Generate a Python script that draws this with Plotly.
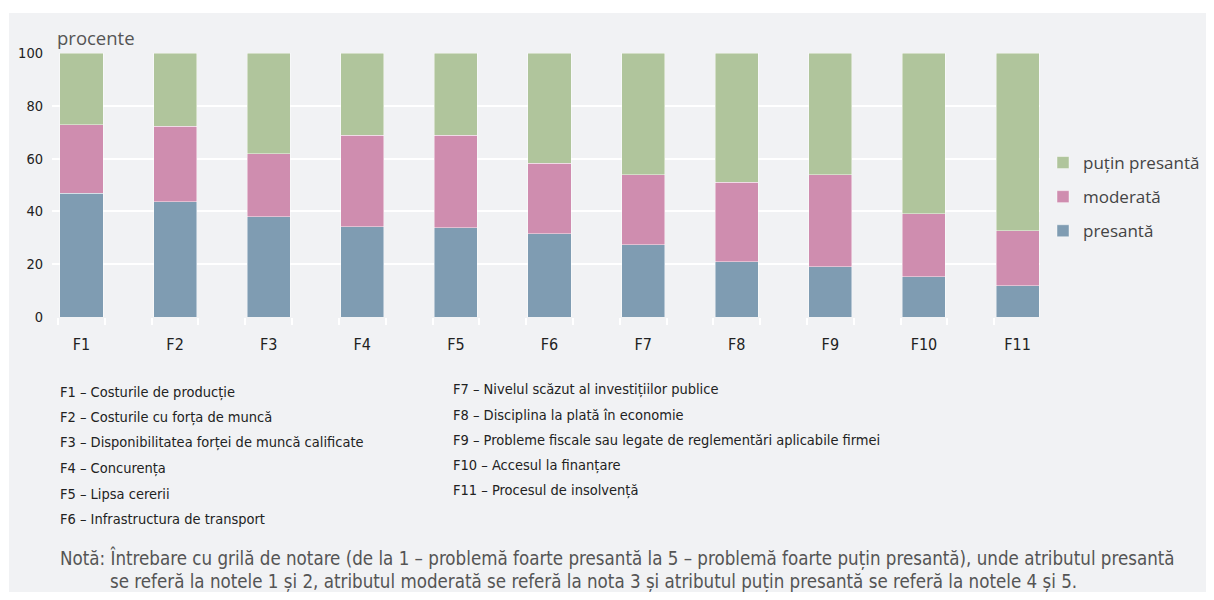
import plotly.graph_objects as go

categories = ["F1", "F2", "F3", "F4", "F5", "F6", "F7", "F8", "F9", "F10", "F11"]
presanta = [46.9, 43.7, 38.0, 34.2, 33.8, 31.6, 27.3, 21.0, 19.1, 15.3, 11.9]
moderata = [26.0, 28.6, 23.9, 34.6, 35.1, 26.6, 26.6, 30.1, 34.8, 23.8, 20.8]
putin = [27.1, 27.7, 38.1, 31.2, 31.1, 41.8, 46.1, 48.9, 46.1, 60.9, 67.3]

series_names = ["presantă", "moderată", "puțin presantă"]
series_colors = ["#7f9cb2", "#cf8daf", "#b0c59c"]
legend_ranks = [3, 2, 1]

left_notes = [
    "F1 – Costurile de producție",
    "F2 – Costurile cu forța de muncă",
    "F3 – Disponibilitatea forței de muncă calificate",
    "F4 – Concurența",
    "F5 – Lipsa cererii",
    "F6 – Infrastructura de transport",
]
right_notes = [
    "F7 – Nivelul scăzut al investițiilor publice",
    "F8 – Disciplina la plată în economie",
    "F9 – Probleme fiscale sau legate de reglementări aplicabile firmei",
    "F10 – Accesul la finanțare",
    "F11 – Procesul de insolvență",
]
note_line1 = ("Notă: Întrebare cu grilă de notare (de la 1 – problemă foarte presantă la 5 – problemă "
              "foarte puțin presantă), unde atributul presantă")
note_line2 = ("se referă la notele 1 și 2, atributul moderată se referă la nota 3 și atributul puțin "
              "presantă se referă la notele 4 și 5.")

OFF = 8  # page body margin
W, H = 1214 - OFF, 600 - 2 * OFF
# plot area in page pixels
PL, PR, PT, PB = 52, 1040, 53, 317
L, R, T, B = PL - OFF, PR - OFF, PT - OFF, PB - OFF

def px_x(p):
    return (p - PL) / (PR - PL)

def px_y(p):
    return (PB - p) / (PB - PT)

def cx(p):
    return (p - OFF) / W

def cy(p):
    return 1 - (p - OFF) / H

NARROW = "Liberation Sans Narrow, DejaVu Sans Condensed, Arial Narrow, sans-serif"
LIGHT = "Open Sans, Noto Sans, sans-serif"

xs = list(range(1, len(categories) + 1))
fig = go.Figure()
for name, vals, col, rk in zip(series_names, [presanta, moderata, putin], series_colors, legend_ranks):
    fig.add_trace(go.Bar(
        x=xs, y=vals, name=name, width=0.46, legendgroup=name, legendrank=rk,
        marker=dict(color=col, line=dict(color="rgba(255,255,255,0.55)", width=0.8)),
    ))

annotations = [
    dict(text="procente", x=px_x(55), y=px_y(37), xref="paper", yref="paper",
         xanchor="left", yanchor="middle", showarrow=False,
         font=dict(family=LIGHT, size=18.5, color="#555555")),
]
for i, t in enumerate(left_notes):
    py = 392 + i * 25.4
    annotations.append(dict(text=t, x=px_x(58), y=px_y(py), xref="paper", yref="paper",
                            xanchor="left", yanchor="middle", showarrow=False,
                            font=dict(family=NARROW, size=14.5, color="#222222")))
for i, t in enumerate(right_notes):
    py = 390 + i * 25.2
    annotations.append(dict(text=t, x=px_x(451), y=px_y(py), xref="paper", yref="paper",
                            xanchor="left", yanchor="middle", showarrow=False,
                            font=dict(family=NARROW, size=14.5, color="#222222")))
annotations.append(dict(text=note_line1, x=px_x(58), y=px_y(558), xref="paper", yref="paper",
                        xanchor="left", yanchor="middle", showarrow=False,
                        font=dict(family=NARROW, size=18.6, color="#555555")))
annotations.append(dict(text=note_line2, x=px_x(108), y=px_y(582), xref="paper", yref="paper",
                        xanchor="left", yanchor="middle", showarrow=False,
                        font=dict(family=NARROW, size=18.6, color="#555555")))

minor_vals = []
for x in xs:
    minor_vals += [x - 0.25, x + 0.25]

fig.update_layout(
    width=W, height=H,
    margin=dict(l=L, r=W - R, t=T, b=H - B, pad=0, autoexpand=False),
    barmode="stack",
    paper_bgcolor="white",
    plot_bgcolor="rgba(0,0,0,0)",
    shapes=[dict(type="rect", xref="paper", yref="paper",
                 x0=px_x(9), x1=px_x(1240), y0=px_y(640), y1=px_y(13),
                 fillcolor="#f1f2f4", line=dict(width=0), layer="below")],
    annotations=annotations,
    legend=dict(xref="container", yref="container", x=cx(1043), xanchor="left",
                y=cy(197), yanchor="middle",
                traceorder="grouped", tracegroupgap=9, bgcolor="rgba(0,0,0,0)",
                font=dict(family=LIGHT, size=17, color="#444444"), itemclick=False),
    xaxis=dict(
        range=[0.685, 11.24], tickvals=xs, ticktext=categories, ticks="",
        showgrid=False, zeroline=False, showline=False, automargin=False,
        tickfont=dict(family=NARROW, size=16, color="#222222"),
        ticklabelstandoff=16,
        minor=dict(tickvals=minor_vals, ticks="outside", ticklen=7, tickwidth=2,
                   tickcolor="white", showgrid=False),
    ),
    yaxis=dict(
        range=[0, 100], tickvals=[0, 20, 40, 60, 80, 100], showgrid=True,
        gridcolor="white", gridwidth=2, zeroline=False, showline=False, automargin=False,
        tickfont=dict(family=NARROW, size=14.5, color="#222222"),
        ticklabelstandoff=8,
    ),
)

fig.write_html("out.html")
